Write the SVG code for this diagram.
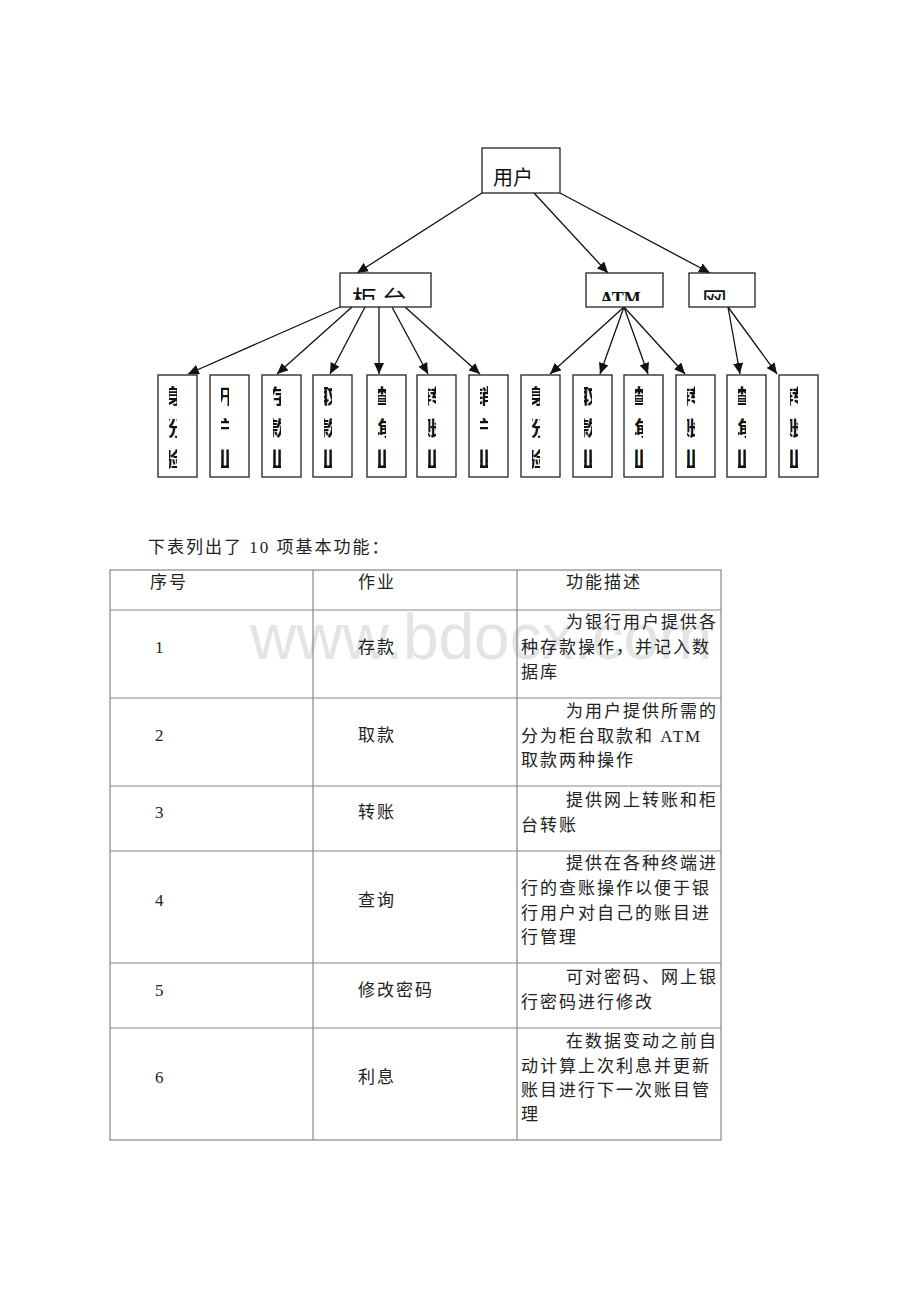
<svg xmlns="http://www.w3.org/2000/svg" width="920" height="1302" viewBox="0 0 920 1302">
<style>
.box{fill:#fff;stroke:#222;stroke-width:1.3}
.conn{stroke:#111;stroke-width:1.3;fill:none}
.top{font-family:"Noto Sans CJK SC",sans-serif;font-size:25px;fill:#111}
.atm{font-family:"Liberation Serif","Noto Sans CJK SC",serif;font-size:18px;font-weight:bold;fill:#111}
.root{font-family:"Noto Sans CJK SC",sans-serif;font-size:20px;fill:#111}
.leaf text{font-family:"Noto Sans CJK SC",sans-serif;font-size:20px;font-weight:bold;fill:#111;text-anchor:middle}
.t{font-family:"Liberation Serif","Noto Sans CJK SC",serif;font-size:17px;fill:#222;letter-spacing:2px}
.n{font-family:"Liberation Serif",serif;font-size:17px;fill:#222}
.grid{stroke:#888;stroke-width:1.2;fill:none}
.wm{font-family:"Liberation Sans",sans-serif;font-size:64px;fill:#e4e4e4}
</style>
<defs>
<marker id="ah" markerUnits="userSpaceOnUse" markerWidth="12" markerHeight="10" refX="11" refY="5" orient="auto">
<path d="M0,0 L11,5 L0,10 z" fill="#111"/>
</marker>
<clipPath id="topclip"><rect x="330" y="273" width="440" height="27"/></clipPath>
<clipPath id="atmclip"><rect x="586" y="273" width="77" height="28"/></clipPath>
<clipPath id="sliver"><rect x="11" y="2" width="8" height="98"/></clipPath>
</defs>

<g id="connectors">
<line class="conn" x1="482" y1="193" x2="357" y2="273" marker-end="url(#ah)"/>
<line class="conn" x1="534" y1="193" x2="608" y2="273" marker-end="url(#ah)"/>
<line class="conn" x1="560" y1="193" x2="710" y2="273" marker-end="url(#ah)"/>
<line class="conn" x1="340" y1="307" x2="188" y2="374" marker-end="url(#ah)"/>
<line class="conn" x1="352" y1="307" x2="277" y2="374" marker-end="url(#ah)"/>
<line class="conn" x1="365" y1="307" x2="330" y2="374" marker-end="url(#ah)"/>
<line class="conn" x1="379" y1="307" x2="379" y2="374" marker-end="url(#ah)"/>
<line class="conn" x1="392" y1="307" x2="428" y2="374" marker-end="url(#ah)"/>
<line class="conn" x1="405" y1="307" x2="480" y2="374" marker-end="url(#ah)"/>
<line class="conn" x1="624" y1="307" x2="550" y2="374" marker-end="url(#ah)"/>
<line class="conn" x1="624" y1="307" x2="600" y2="374" marker-end="url(#ah)"/>
<line class="conn" x1="624" y1="307" x2="648" y2="374" marker-end="url(#ah)"/>
<line class="conn" x1="624" y1="307" x2="685" y2="374" marker-end="url(#ah)"/>
<line class="conn" x1="728" y1="307" x2="740" y2="374" marker-end="url(#ah)"/>
<line class="conn" x1="728" y1="307" x2="777" y2="374" marker-end="url(#ah)"/>
</g>

<g id="user">
<rect class="box" x="482" y="148" width="78" height="45"/>
<text class="root" x="493" y="185">用户</text>
</g>
<g id="counter">
<rect class="box" x="340" y="273" width="91" height="34"/>
<text class="top" x="352" y="309" letter-spacing="5" clip-path="url(#topclip)">柜台</text>
</g>
<g id="atm">
<rect class="box" x="586" y="273" width="77" height="34"/>
<text class="atm" x="600" y="305" clip-path="url(#atmclip)">ATM</text>
</g>
<g id="web">
<rect class="box" x="689" y="273" width="66" height="34"/>
<text class="top" x="702" y="310" clip-path="url(#topclip)">网</text>
</g>

<g id="leaf1" class="leaf" transform="translate(158,375)"><rect class="box" width="39" height="102"/><g clip-path="url(#sliver)"><text><tspan x="15" y="29">身</tspan><tspan x="15" y="60.5">份</tspan><tspan x="15" y="92">验</tspan></text></g></g>
<g id="leaf2" class="leaf" transform="translate(210,375)"><rect class="box" width="39" height="102"/><g clip-path="url(#sliver)"><text><tspan x="15" y="29">开</tspan><tspan x="15" y="60.5">户</tspan><tspan x="15" y="92">业</tspan></text></g></g>
<g id="leaf3" class="leaf" transform="translate(262,375)"><rect class="box" width="39" height="102"/><g clip-path="url(#sliver)"><text><tspan x="15" y="29">存</tspan><tspan x="15" y="60.5">款</tspan><tspan x="15" y="92">业</tspan></text></g></g>
<g id="leaf4" class="leaf" transform="translate(313,375)"><rect class="box" width="39" height="102"/><g clip-path="url(#sliver)"><text><tspan x="15" y="29">取</tspan><tspan x="15" y="60.5">款</tspan><tspan x="15" y="92">业</tspan></text></g></g>
<g id="leaf5" class="leaf" transform="translate(367,375)"><rect class="box" width="39" height="102"/><g clip-path="url(#sliver)"><text><tspan x="15" y="29">查</tspan><tspan x="15" y="60.5">询</tspan><tspan x="15" y="92">业</tspan></text></g></g>
<g id="leaf6" class="leaf" transform="translate(417,375)"><rect class="box" width="39" height="102"/><g clip-path="url(#sliver)"><text><tspan x="15" y="29">转</tspan><tspan x="15" y="60.5">账</tspan><tspan x="15" y="92">业</tspan></text></g></g>
<g id="leaf7" class="leaf" transform="translate(469,375)"><rect class="box" width="39" height="102"/><g clip-path="url(#sliver)"><text><tspan x="15" y="29">销</tspan><tspan x="15" y="60.5">户</tspan><tspan x="15" y="92">业</tspan></text></g></g>
<g id="leaf8" class="leaf" transform="translate(521,375)"><rect class="box" width="39" height="102"/><g clip-path="url(#sliver)"><text><tspan x="15" y="29">身</tspan><tspan x="15" y="60.5">份</tspan><tspan x="15" y="92">验</tspan></text></g></g>
<g id="leaf9" class="leaf" transform="translate(573,375)"><rect class="box" width="39" height="102"/><g clip-path="url(#sliver)"><text><tspan x="15" y="29">取</tspan><tspan x="15" y="60.5">款</tspan><tspan x="15" y="92">业</tspan></text></g></g>
<g id="leaf10" class="leaf" transform="translate(624,375)"><rect class="box" width="39" height="102"/><g clip-path="url(#sliver)"><text><tspan x="15" y="29">查</tspan><tspan x="15" y="60.5">询</tspan><tspan x="15" y="92">业</tspan></text></g></g>
<g id="leaf11" class="leaf" transform="translate(676,375)"><rect class="box" width="39" height="102"/><g clip-path="url(#sliver)"><text><tspan x="15" y="29">转</tspan><tspan x="15" y="60.5">账</tspan><tspan x="15" y="92">业</tspan></text></g></g>
<g id="leaf12" class="leaf" transform="translate(727,375)"><rect class="box" width="39" height="102"/><g clip-path="url(#sliver)"><text><tspan x="15" y="29">查</tspan><tspan x="15" y="60.5">询</tspan><tspan x="15" y="92">业</tspan></text></g></g>
<g id="leaf13" class="leaf" transform="translate(779,375)"><rect class="box" width="39" height="102"/><g clip-path="url(#sliver)"><text><tspan x="15" y="29">转</tspan><tspan x="15" y="60.5">账</tspan><tspan x="15" y="92">业</tspan></text></g></g>

<g id="caption">
<text class="t" x="148" y="553" letter-spacing="1">下表列出了 10 项基本功能：</text>
</g>

<g id="watermark">
<text class="wm" x="250" y="659">www.bdocx.com</text>
</g>

<g id="table">
<rect class="grid" x="110" y="570" width="611" height="570"/>
<line class="grid" x1="313" y1="570" x2="313" y2="1140"/>
<line class="grid" x1="517" y1="570" x2="517" y2="1140"/>
<line class="grid" x1="110" y1="610" x2="721" y2="610"/>
<line class="grid" x1="110" y1="698" x2="721" y2="698"/>
<line class="grid" x1="110" y1="786" x2="721" y2="786"/>
<line class="grid" x1="110" y1="851" x2="721" y2="851"/>
<line class="grid" x1="110" y1="963" x2="721" y2="963"/>
<line class="grid" x1="110" y1="1028" x2="721" y2="1028"/>

<text class="t" x="150" y="588">序号</text>
<text class="t" x="358" y="588">作业</text>
<text class="t" x="566" y="588">功能描述</text>

<text class="n" x="155" y="653">1</text>
<text class="t" x="358" y="653">存款</text>
<text class="t" x="566" y="628">为银行用户提供各</text>
<text class="t" x="521" y="653">种存款操作，并记入数</text>
<text class="t" x="521" y="678">据库</text>

<text class="n" x="155" y="741">2</text>
<text class="t" x="358" y="741">取款</text>
<text class="t" x="566" y="717">为用户提供所需的</text>
<text class="t" x="521" y="742">分为柜台取款和 ATM</text>
<text class="t" x="521" y="766">取款两种操作</text>

<text class="n" x="155" y="818">3</text>
<text class="t" x="358" y="818">转账</text>
<text class="t" x="566" y="806">提供网上转账和柜</text>
<text class="t" x="521" y="831">台转账</text>

<text class="n" x="155" y="906">4</text>
<text class="t" x="358" y="906">查询</text>
<text class="t" x="566" y="869">提供在各种终端进</text>
<text class="t" x="521" y="894">行的查账操作以便于银</text>
<text class="t" x="521" y="919">行用户对自己的账目进</text>
<text class="t" x="521" y="943">行管理</text>

<text class="n" x="155" y="996">5</text>
<text class="t" x="358" y="996">修改密码</text>
<text class="t" x="566" y="983">可对密码、网上银</text>
<text class="t" x="521" y="1008">行密码进行修改</text>

<text class="n" x="155" y="1083">6</text>
<text class="t" x="358" y="1083">利息</text>
<text class="t" x="566" y="1047">在数据变动之前自</text>
<text class="t" x="521" y="1072">动计算上次利息并更新</text>
<text class="t" x="521" y="1096">账目进行下一次账目管</text>
<text class="t" x="521" y="1120">理</text>
</g>
</svg>
